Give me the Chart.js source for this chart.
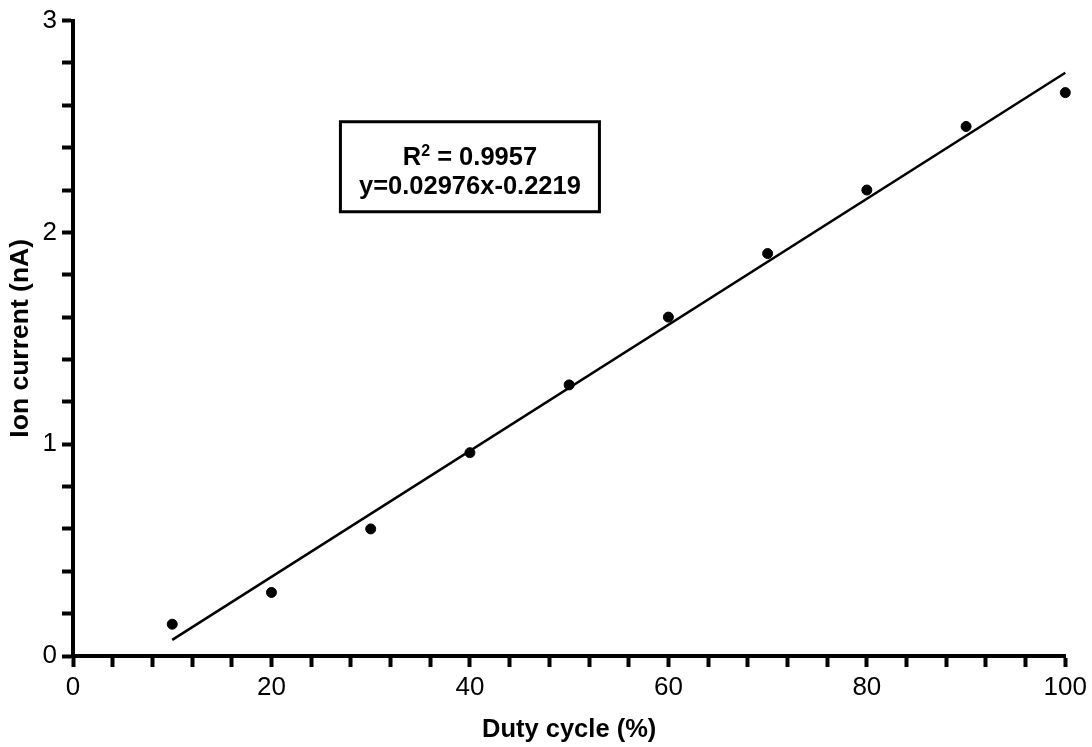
<!DOCTYPE html>
<html>
<head>
<meta charset="utf-8">
<script src="https://cdn.jsdelivr.net/npm/chart.js@4.4.0/dist/chart.umd.min.js"></script>
<style>
  body { margin: 0; background: #fff; }
  #wrap { width: 1092px; height: 747px; }
</style>
</head>
<body>
<div id="wrap"><canvas id="chart"></canvas></div>
<script>
// measured points
const dutyCycle = [10, 20, 30, 40, 50, 60, 70, 80, 90, 100];
const ionCurrent = [0.15, 0.30, 0.60, 0.96, 1.28, 1.60, 1.90, 2.20, 2.50, 2.66];

// ends of the fitted line
const fitX = [10, 100];
const fitY = [0.076, 2.754];

const r2Text = '0.9957';
const eqText = 'y=0.02976x-0.2219';
const boxAt = { x: 40, y: 2.31 };

const FONT = '"Liberation Sans", Arial, Helvetica, sans-serif';

// text box with the fit result
const fitBox = {
  id: 'fitBox',
  afterDraw(chart) {
    const ctx = chart.ctx;
    const cx = chart.scales.x.getPixelForValue(boxAt.x);
    const cy = chart.scales.y.getPixelForValue(boxAt.y);
    const w = 259, h = 90;
    ctx.save();
    ctx.fillStyle = '#fff';
    ctx.fillRect(cx - w / 2, cy - h / 2, w, h);
    ctx.lineWidth = 3;
    ctx.strokeStyle = '#000';
    ctx.strokeRect(cx - w / 2, cy - h / 2, w, h);

    ctx.fillStyle = '#000';
    ctx.textBaseline = 'alphabetic';
    ctx.textAlign = 'left';
    const big = 'bold 25.5px ' + FONT;
    const small = 'bold 16px ' + FONT;
    ctx.font = big;
    const wR = ctx.measureText('R').width;
    const rest = ' = ' + r2Text;
    const wRest = ctx.measureText(rest).width;
    ctx.font = small;
    const wSup = ctx.measureText('2').width;
    let x = cx - (wR + wSup + wRest) / 2;
    const base1 = cy - 2;
    ctx.font = big;
    ctx.fillText('R', x, base1);
    x += wR;
    ctx.font = small;
    ctx.fillText('2', x, base1 - 9);
    x += wSup;
    ctx.font = big;
    ctx.fillText(rest, x, base1);

    ctx.textAlign = 'center';
    ctx.fillText(eqText, cx, cy + 27);
    ctx.restore();
  }
};

new Chart(document.getElementById('chart'), {
  type: 'scatter',
  data: {
    datasets: [
      {
        data: dutyCycle.map((d, i) => ({ x: d, y: ionCurrent[i] })),
        backgroundColor: '#000',
        borderColor: '#000',
        pointRadius: 5,
        pointHoverRadius: 5,
        showLine: false
      },
      {
        data: fitX.map((d, i) => ({ x: d, y: fitY[i] })),
        borderColor: '#000',
        borderWidth: 2.5,
        pointRadius: 0,
        showLine: true,
        fill: false
      }
    ]
  },
  plugins: [fitBox],
  options: {
    responsive: true,
    maintainAspectRatio: false,
    animation: false,
    clip: false,
    layout: { padding: { top: 18, right: 22, left: 0, bottom: 0 } },
    plugins: {
      legend: { display: false },
      tooltip: { enabled: false }
    },
    scales: {
      x: {
        type: 'linear',
        min: 0,
        max: 100,
        afterFit: (s) => { s.height = 91; },
        border: { display: true, width: 4, color: '#000' },
        grid: {
          drawOnChartArea: false,
          drawTicks: true,
          tickLength: 11,
          tickWidth: 4,
          tickColor: '#000'
        },
        ticks: {
          stepSize: 4,
          autoSkip: false,
          maxRotation: 0,
          padding: 5,
          color: '#000',
          font: { family: FONT, size: 26 },
          callback: (v) => (v % 20 === 0 ? v : '')
        },
        title: {
          display: true,
          text: 'Duty cycle (%)',
          color: '#000',
          font: { family: FONT, size: 25.5, weight: 'bold' },
          padding: { top: 0, bottom: 2 }
        }
      },
      y: {
        type: 'linear',
        min: 0,
        max: 3,
        afterFit: (s) => { s.width = 73; },
        border: { display: true, width: 4, color: '#000' },
        grid: {
          drawOnChartArea: false,
          drawTicks: true,
          tickLength: 11,
          tickWidth: 4,
          tickColor: '#000'
        },
        ticks: {
          stepSize: 0.2,
          autoSkip: false,
          padding: 5,
          color: '#000',
          font: { family: FONT, size: 26 },
          callback: (v) => (Math.abs(v - Math.round(v)) < 1e-6 ? Math.round(v) : '')
        },
        title: {
          display: true,
          text: 'Ion current (nA)',
          color: '#000',
          font: { family: FONT, size: 26.5, weight: 'bold' },
          padding: { top: 5, bottom: 0 }
        }
      }
    }
  }
});
</script>
</body>
</html>
